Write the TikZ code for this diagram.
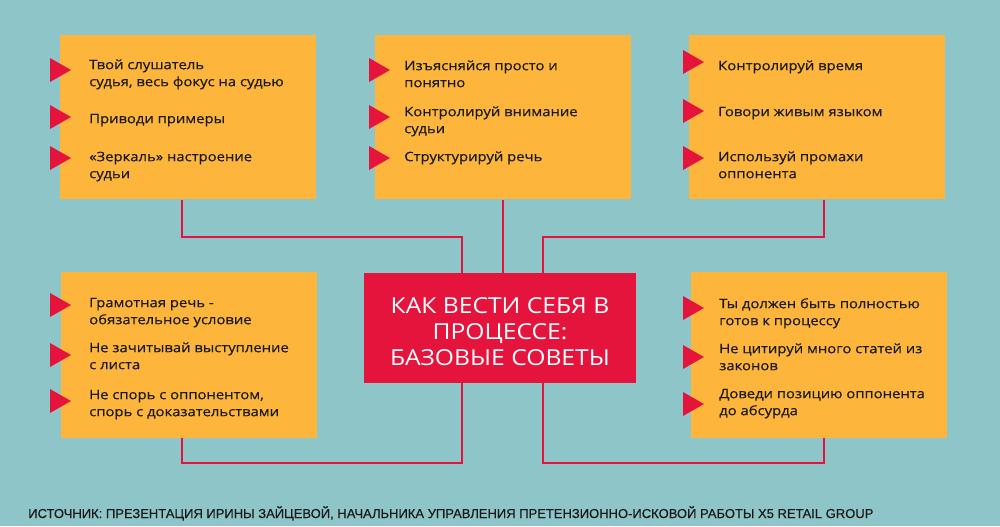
\documentclass[tikz,border=0pt]{standalone}
\usepackage{fontspec}
\setmainfont{Open Sans}
\newfontfamily\tipfont[FakeStretch=1.14,FakeBold=0.4]{Open Sans}
\newfontfamily\headfont[FakeStretch=1.12]{Open Sans}
\newfontfamily\srcfont[FakeBold=0.4]{Liberation Sans}
\usepackage{tikz}
\usetikzlibrary{positioning}

\definecolor{sea}{HTML}{8DC5C9}
\definecolor{sun}{HTML}{FDB53B}
\definecolor{berry}{HTML}{E5143C}
\definecolor{ink}{HTML}{1A1A1A}

\begin{document}
\begin{tikzpicture}[x=0.75pt,y=-0.75pt,
    card/.style={fill=sun,minimum width=192pt,minimum height=123.5pt,inner sep=0pt},
    hub/.style={fill=berry,minimum width=204pt,minimum height=82.5pt,inner sep=0pt},
    heading/.style={text=white,align=center,inner sep=0pt,
        font=\headfont\fontsize{16.5}{19.5}\selectfont},
    tip/.style={anchor=north west,inner sep=0pt,align=left,text=ink,
        font=\tipfont\fontsize{9.75}{12.75}\selectfont},
    link/.style={draw=berry,line width=1.5pt},
    pin/.style={fill=berry}]

            % Define the background
            \fill[sea] (0,0) rectangle (1000,526);
            \useasboundingbox (0,0) rectangle (1000,526);

            % Define the cards
            \node[card] (tl) at (188,117) {};
            \node[card] (tm) at (503,117) {};
            \node[card] (tr) at (817,117) {};
            \node[card,minimum height=124.5pt] (bl) at (188.5,355) {};
            \node[card,minimum height=124.5pt] (br) at (819,355) {};

            % Define the central box
            \node[hub] (core) at (500,328) {};
            \node[heading] (title) at ([yshift=-3pt]core.center) {КАК ВЕСТИ СЕБЯ В\\ПРОЦЕССЕ:\\БАЗОВЫЕ СОВЕТЫ};

            % Connect the cards with the central box
            \draw[link] (tl.south -| 182,0) |- (462,237) -- (core.north -| 462,0);
            \draw[link] (tm.south -| 503,0) -- (core.north -| 503,0);
            \draw[link] (tr.south -| 824,0) |- (543,237) -- (core.north -| 543,0);
            \draw[link] (core.south -| 462,0) |- (182,463) -- (bl.south -| 182,0);
            \draw[link] (core.south -| 543,0) |- (824,463) -- (br.south -| 824,0);

            % Add the bullets
            \foreach \x/\y in {50/70,50/117,50/158,369/70,369/117,369/158,
                               683/62,683/111,683/158,50/305,50/355,50/401,
                               683/308,683/357,683/404}
                \fill[pin] (\x,\y-12) -- (\x+21,\y) -- (\x,\y+12) -- cycle;

            % Add the tips of the top row
            \node[tip] (tl1) at (89,57) {\strut Твой слушатель\\судья, весь фокус на судью};
            \node[tip] (tl2) at (89,111) {\strut Приводи примеры};
            \node[tip] (tl3) at (89,149) {\strut «Зеркаль» настроение\\судьи};
            \node[tip] (tm1) at (404,58) {\strut Изъясняйся просто и\\понятно};
            \node[tip] (tm2) at (404,104) {\strut Контролируй внимание\\судьи};
            \node[tip] (tm3) at (404,149) {\strut Структурируй речь};
            \node[tip] (tr1) at (718,58) {\strut Контролируй время};
            \node[tip] (tr2) at (718,104) {\strut Говори живым языком};
            \node[tip] (tr3) at (718,149) {\strut Используй промахи\\оппонента};

            % Add the tips of the bottom row
            \node[tip] (bl1) at (89,295) {\strut Грамотная речь -\\обязательное условие};
            \node[tip] (bl2) at (89,340) {\strut Не зачитывай выступление\\с листа};
            \node[tip] (bl3) at (89,387) {\strut Не спорь с оппонентом,\\спорь с доказательствами};
            \node[tip] (br1) at (719,296) {\strut Ты должен быть полностью\\готов к процессу};
            \node[tip] (br2) at (719,341) {\strut Не цитируй много статей из\\законов};
            \node[tip] (br3) at (719,386) {\strut Доведи позицию оппонента\\до абсурда};

            % Add the source line
            \node[anchor=base west,inner sep=0pt,text=ink,font=\srcfont\fontsize{9.75}{11}\selectfont]
                (source) at (28,518) {ИСТОЧНИК: ПРЕЗЕНТАЦИЯ ИРИНЫ ЗАЙЦЕВОЙ, НАЧАЛЬНИКА УПРАВЛЕНИЯ ПРЕТЕНЗИОННО-ИСКОВОЙ РАБОТЫ X5 RETAIL GROUP};

        \end{tikzpicture}
\end{document}
